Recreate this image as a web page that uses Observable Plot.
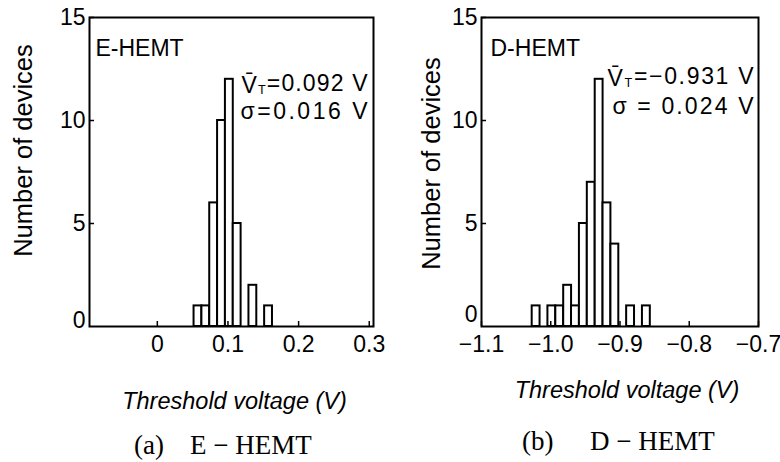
<!DOCTYPE html>
<html>
<head>
<meta charset="utf-8">
<script src="https://cdn.jsdelivr.net/npm/d3@7"></script>
<script src="https://cdn.jsdelivr.net/npm/@observablehq/plot@0.6"></script>
<style>
  html, body { margin: 0; padding: 0; background: white; }
  #fig { position: relative; width: 780px; height: 462px; background: white; overflow: hidden; }
  .panel { position: absolute; top: 0; }
  .cap { position: absolute; font-family: "Liberation Serif", serif; font-size: 27px; color: black; white-space: pre; line-height: 1; }
</style>
</head>
<body>
<div id="fig"></div>
<script>
// ---------- data ----------
// (a) E-HEMT histogram
const eBinStart = [0.052, 0.0631, 0.0742, 0.0853, 0.0964, 0.1075, 0.1186, 0.1297, 0.1408, 0.1519];
const eCounts   = [1, 1, 6, 10, 12, 5, 0, 2, 0, 1];
const eBinWidth = 0.0111;
const eTicks      = [0, 0.1, 0.2, 0.3];
const eTickLabels = ["0", "0.1", "0.2", "0.3"];
const eTitle = "E-HEMT";
const eStats = ["V\u0304_T=0.092 V", "\u03c3=0.016 V"];
const eCaption = ["(a)", "E \u2212 HEMT"];

// (b) D-HEMT histogram
const dBinStart = [-1.0268, -1.0154, -1.0041, -0.9927, -0.9813, -0.9700, -0.9586, -0.9472, -0.9358, -0.9245, -0.9131, -0.9017, -0.8904, -0.8790, -0.8676];
const dCounts   = [1, 0, 1, 1, 2, 1, 5, 7, 12, 6, 4, 0, 1, 0, 1];
const dBinWidth = 0.01137;
const dTicks      = [-1.1, -1.0, -0.9, -0.8, -0.7];
const dTickLabels = ["\u22121.1", "\u22121.0", "\u22120.9", "\u22120.8", "\u22120.7"];
const dTitle = "D-HEMT";
const dStats = ["V\u0304_T=\u22120.931 V", "\u03c3 = 0.024 V"];
const dCaption = ["(b)", "D \u2212 HEMT"];

const yTicks = [5, 10, 15];
const yZero = [0];
const yLabel = "Number of devices";
const xLabel = "Threshold voltage (V)";

// ---------- helpers ----------
function bins(starts, counts, w) {
  return starts.map((s, i) => ({x1: s, x2: s + w, count: counts[i]})).filter(d => d.count > 0);
}
function labeler(ticks, labels) {
  return d => labels[ticks.findIndex(t => Math.abs(t - d) < 1e-9)];
}

const font = "'Liberation Sans', Arial, sans-serif";

function panel(cfg) {
  const plot = Plot.plot({
    width: 390,
    height: 420,
    marginLeft: cfg.ml,
    marginRight: cfg.mr,
    marginTop: 17,
    marginBottom: 94,
    style: {fontFamily: font, fontSize: "23px", color: "black", background: "white", overflow: "visible"},
    x: {domain: cfg.xdomain},
    y: {domain: [0, 15]},
    marks: [
      Plot.rectY(bins(cfg.starts, cfg.counts, cfg.w), {x1: "x1", x2: "x2", y: "count", fill: "white", stroke: "black", strokeWidth: 2}),
      Plot.frame({stroke: "black", strokeWidth: 2}),
      Plot.axisX({ticks: cfg.ticks, tickFormat: labeler(cfg.ticks, cfg.tickLabels), tickSize: -5, tickPadding: 14, label: null, strokeWidth: 1.5}),
      Plot.axisY({ticks: yTicks, tickSize: -5, tickPadding: 9, label: null, strokeWidth: 1.5}),
      Plot.axisY({ticks: yZero, tickSize: 0, tickPadding: 4, label: null, dy: cfg.zeroDy}),
      Plot.text([cfg.title], {frameAnchor: "top-left", textAnchor: "start", lineAnchor: "bottom", dx: cfg.titleDx, dy: 38, fontSize: 23}),
      Plot.text([cfg.stats[0]], {frameAnchor: "top-left", textAnchor: "start", lineAnchor: "bottom", dx: cfg.statDx[0], dy: cfg.statDy[0], fontSize: 23}),
      Plot.text([cfg.stats[1]], {frameAnchor: "top-left", textAnchor: "start", lineAnchor: "bottom", dx: cfg.statDx[1], dy: cfg.statDy[1], fontSize: 23}),
      Plot.text([xLabel], {frameAnchor: "bottom", textAnchor: "middle", lineAnchor: "bottom", dx: cfg.xlDx, dy: cfg.xlDy, fontSize: 23.5, fontStyle: "italic"}),
      Plot.text([yLabel], {frameAnchor: "left", textAnchor: "middle", lineAnchor: "middle", rotate: -90, dx: cfg.ylDx, dy: cfg.ylDy, fontSize: 25.5})
    ]
  });
  d3.select(plot).selectAll("text").each(function() {
    const t = this.textContent;
    const sel = d3.select(this);
    if (t.includes("_T")) {
      // mean symbol: V with overbar and subscript T
      const [head, rest] = t.split("_T");
      sel.text(null);
      sel.append("tspan").text(head);
      sel.append("tspan").attr("font-size", "0.55em").attr("dy", "0.15em").text("T");
      sel.append("tspan").attr("dy", "-0.15em").text(rest);
      sel.attr("textLength", cfg.statLen[0]).attr("lengthAdjust", "spacing");
    } else if (t === cfg.stats[1]) {
      sel.attr("textLength", cfg.statLen[1]).attr("lengthAdjust", "spacing");
    }
  });
  return plot;
}

const fig = document.getElementById("fig");

const left = panel({
  ml: 89, mr: 17, xdomain: [-0.096, 0.306],
  starts: eBinStart, counts: eCounts, w: eBinWidth,
  ticks: eTicks, tickLabels: eTickLabels, zeroDy: -6,
  title: eTitle, titleDx: 6, stats: eStats,
  statDx: [152, 151], statDy: [75, 101], statLen: [126, 127],
  xlDx: 3, xlDy: 82, ylDx: -66, ylDy: -21.5
});
left.classList.add("panel");
left.style.left = "0px";
fig.appendChild(left);

const right = panel({
  ml: 91, mr: 22, xdomain: [-1.1, -0.7],
  starts: dBinStart, counts: dCounts, w: dBinWidth,
  ticks: dTicks, tickLabels: dTickLabels, zeroDy: -12,
  title: dTitle, titleDx: 9, stats: dStats,
  statDx: [126, 131], statDy: [68, 96], statLen: [146, 141],
  xlDx: 7, xlDy: 71, ylDx: -50, ylDy: -8.5
});
right.classList.add("panel");
right.style.left = "390px";
fig.appendChild(right);

function caption(parts, x1, x2, top) {
  const a = document.createElement("div");
  a.className = "cap"; a.textContent = parts[0];
  a.style.left = x1 + "px"; a.style.top = top + "px";
  fig.appendChild(a);
  const b = document.createElement("div");
  b.className = "cap"; b.textContent = parts[1];
  b.style.left = x2 + "px"; b.style.top = top + "px";
  fig.appendChild(b);
}
caption(eCaption, 134, 190, 432);
caption(dCaption, 522, 590, 428);
</script>
</body>
</html>
